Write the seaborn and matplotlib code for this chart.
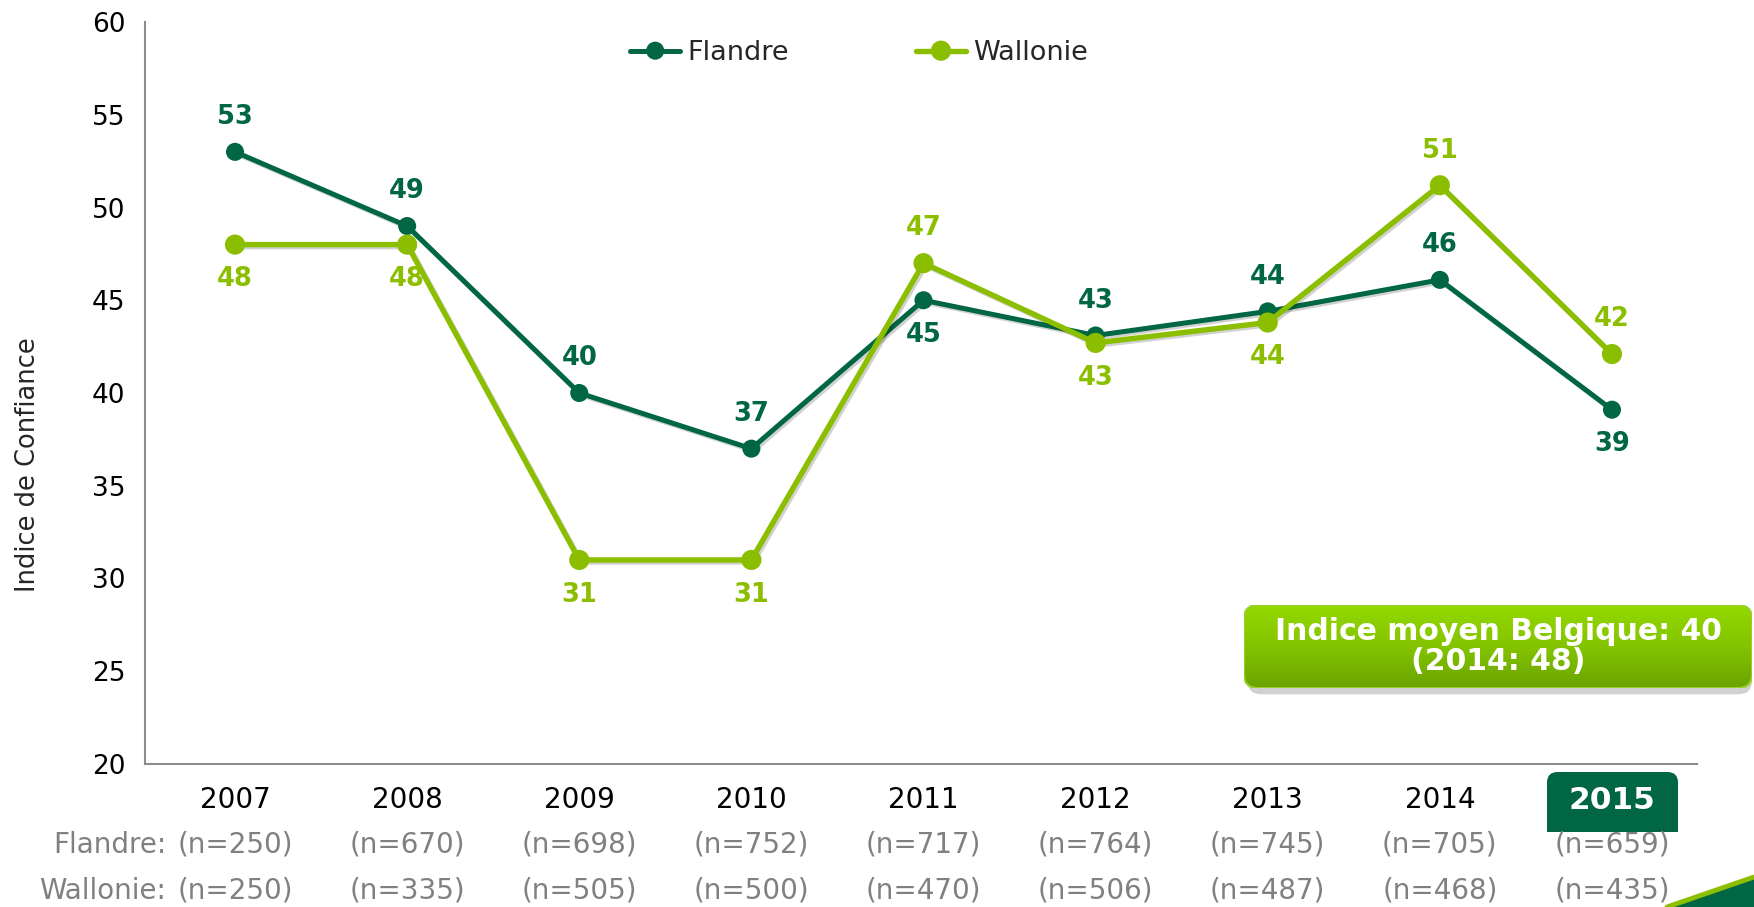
import numpy as np
import pandas as pd
import seaborn as sns
import matplotlib.pyplot as plt
import matplotlib.patheffects as pe
from matplotlib.patches import FancyBboxPatch, Polygon, Rectangle
from matplotlib.colors import LinearSegmentedColormap
from matplotlib.transforms import blended_transform_factory

# données
years = ['2007', '2008', '2009', '2010', '2011', '2012', '2013', '2014', '2015']
flandre = [53, 49, 40, 37, 45, 43.1, 44.4, 46.1, 39.1]
wallonie = [48, 48, 31, 31, 47, 42.7, 43.8, 51.2, 42.1]
n_flandre = [250, 670, 698, 752, 717, 764, 745, 705, 659]
n_wallonie = [250, 335, 505, 500, 470, 506, 487, 468, 435]
# position des étiquettes : 1 = au-dessus, -1 = en dessous
pos_flandre = [1, 1, 1, 1, -1, 1, 1, 1, -1]
pos_wallonie = [-1, -1, -1, -1, 1, -1, -1, 1, 1]

c_fl = '#006643'
c_wa = '#8cbe00'
W, H = 1754, 907

sns.set_style('white')
plt.rcParams['font.family'] = ['DejaVu Sans']

fig = plt.figure(figsize=(W / 100, H / 100), dpi=100)
ax = fig.add_axes([145 / W, 1 - 764 / H, (1697 - 145) / W, 742 / H])

x = np.arange(len(years))
shadow_fx = [pe.SimpleLineShadow(offset=(1.5, -1.5), alpha=0.18, shadow_color='black'), pe.Normal()]
sns.lineplot(x=x, y=flandre, ax=ax, color=c_fl, linewidth=3.6, marker='o',
             markersize=13, markeredgewidth=0, label='Flandre', path_effects=shadow_fx)
sns.lineplot(x=x, y=wallonie, ax=ax, color=c_wa, linewidth=3.9, marker='o',
             markersize=14.5, markeredgewidth=0, label='Wallonie', path_effects=shadow_fx)

# étiquettes de valeurs
for vals, pos, col in [(flandre, pos_flandre, c_fl), (wallonie, pos_wallonie, c_wa)]:
    for xi, v, p in zip(x, vals, pos):
        ax.annotate(f'{round(v)}', (xi, v), xytext=(0, 25 * p), textcoords='offset points',
                    ha='center', va='center', fontsize=18.5, fontweight='bold', color=col)

ax.set_xlim(-0.523, 8.494)
ax.set_ylim(20, 60)
ax.set_yticks(range(20, 61, 5))
ax.set_xticks(x)
ax.set_xticklabels(years)
ax.tick_params(axis='both', length=0, colors='black')
ax.tick_params(axis='x', pad=16, labelsize=20)
ax.tick_params(axis='y', pad=14, labelsize=19)
ax.set_ylabel('Indice de Confiance', fontsize=18.5)
ax.yaxis.set_label_coords(-0.067, 0.404)
for s in ['top', 'right']:
    ax.spines[s].set_visible(False)
for s in ['left', 'bottom']:
    ax.spines[s].set_color('#8c8c8c')
    ax.spines[s].set_linewidth(1.5)

# 2015 en évidence
lab = ax.get_xticklabels()[-1]
lab.set_color('white')
lab.set_fontweight('bold')
lab.set_fontsize(22.5)
ax.add_patch(FancyBboxPatch((1547 / W, 1 - 832 / H), 131 / W, 60 / H,
                            boxstyle='round,pad=0,rounding_size=0.006',
                            mutation_aspect=W / H, transform=fig.transFigure,
                            fc=c_fl, ec='none', clip_on=False, zorder=0.2))
ax.add_patch(Rectangle((1547 / W, 1 - 832 / H), 131 / W, 30 / H, transform=fig.transFigure,
                       fc=c_fl, ec='none', clip_on=False, zorder=0.2))

# effectifs
tr = blended_transform_factory(ax.transData, ax.transAxes)
for xi, nf, nw in zip(x, n_flandre, n_wallonie):
    ax.text(xi, -0.109, f'(n={nf})', transform=tr, ha='center', va='center',
            fontsize=20, color='#808080')
    ax.text(xi, -0.171, f'(n={nw})', transform=tr, ha='center', va='center',
            fontsize=20, color='#808080')
fig.text(166 / W, 1 - 845 / H, 'Flandre:', ha='right', va='center',
         fontsize=20, color='#808080')
fig.text(166 / W, 1 - 891 / H, 'Wallonie:', ha='right', va='center',
         fontsize=20, color='#808080')

leg = ax.legend(loc='center', bbox_to_anchor=(0.46, 0.958), ncol=2, frameon=False,
                fontsize=19.5, handlelength=1.85, handletextpad=0.25, columnspacing=4.7)
for h in leg.get_lines():
    h.set_path_effects([pe.Normal()])

# encadré moyenne Belgique
bx, by, bw, bh = 1244 / W, 1 - 688 / H, 508 / W, 83 / H
shadow = FancyBboxPatch((bx + 0.002, by - 0.007), bw - 0.002, bh,
                        boxstyle='round,pad=0,rounding_size=0.008',
                        transform=fig.transFigure, fc='#9a9a9a', ec='none', alpha=0.45,
                        mutation_aspect=W / H, zorder=1)
fig.patches.append(shadow)
bax = fig.add_axes([bx, by, bw, bh])
bax.set_zorder(3)
bax.set_axis_off()
grad = np.linspace(0, 1, 100).reshape(-1, 1)
cmap = LinearSegmentedColormap.from_list('g', ['#93d800', '#84c400', '#6aa300'])
im = bax.imshow(grad, aspect='auto', cmap=cmap, extent=[0, 1, 0, 1], origin='upper')
rs = 14 / (bw * W)
frame = FancyBboxPatch((0, 0), 1, 1, boxstyle=f'round,pad=0,rounding_size={rs}',
                       transform=bax.transAxes, fc='none', ec='#9ccf2c', lw=1.5,
                       mutation_aspect=(bw * W) / (bh * H))
bax.add_patch(frame)
im.set_clip_path(frame)
bax.set_xlim(0, 1)
bax.set_ylim(0, 1)
bax.text(0.5, 0.5, 'Indice moyen Belgique: 40\n(2014: 48)', ha='center', va='center',
         color='white', fontsize=21.5, fontweight='bold', linespacing=1.05,
         transform=bax.transAxes)

# décor en bas à droite
fig.patches.append(Polygon([(1667 / W, 0), (1, 0), (1, 1 - 877 / H)], closed=True,
                           transform=fig.transFigure, fc=c_fl, ec='none'))
fig.lines.append(plt.Line2D([1667 / W, 1], [0, 1 - 877 / H], transform=fig.transFigure,
                            color=c_wa, lw=3.5))

fig.savefig('out.png', dpi=100)
